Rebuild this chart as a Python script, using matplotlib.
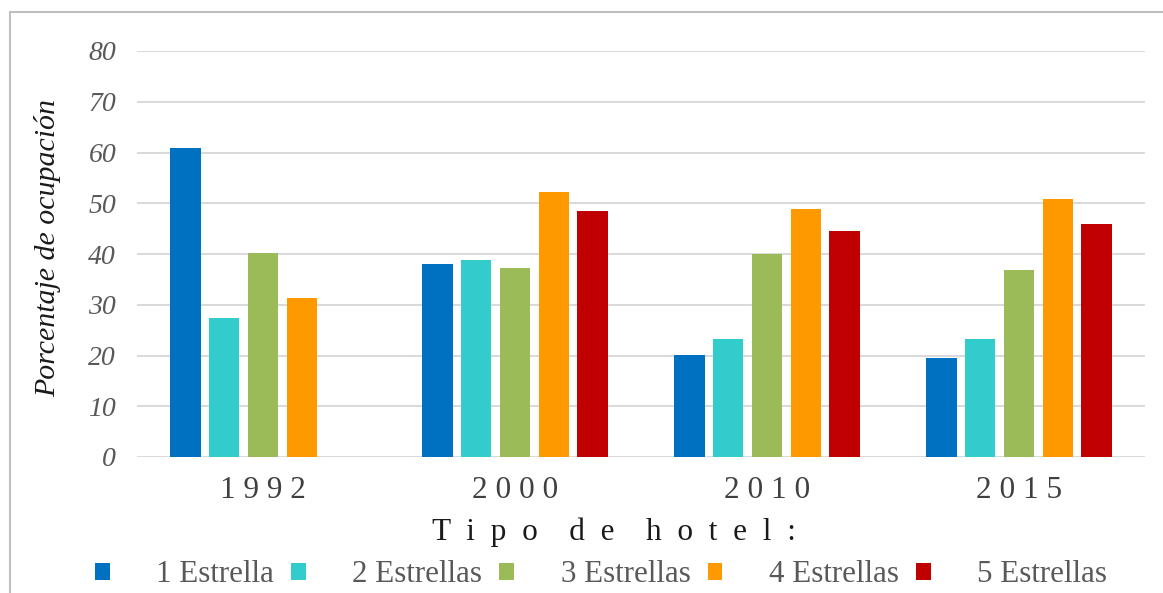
import matplotlib
matplotlib.use("Agg")
import matplotlib.pyplot as plt
from matplotlib.patches import Patch, Rectangle
from matplotlib.font_manager import FontProperties
import numpy as np

years = ["1992", "2000", "2010", "2015"]
series_names = ["1 Estrella", "2 Estrellas", "3 Estrellas", "4 Estrellas", "5 Estrellas"]
una = [60.9, 38.0, 20.1, 19.6]
dos = [27.4, 38.9, 23.3, 23.3]
tres = [40.2, 37.3, 40.0, 36.8]
cuatro = [31.4, 52.3, 48.9, 50.9]
cinco = [0.0, 48.4, 44.6, 45.9]
colors = ["#0070C0", "#33CCCC", "#9BBB59", "#FF9900", "#C00000"]
yticks = [0, 10, 20, 30, 40, 50, 60, 70, 80]

SERIF = ["Liberation Serif", "DejaVu Serif"]
plt.rcParams["font.family"] = SERIF

W, H = 1163, 593
fig = plt.figure(figsize=(W / 100, H / 100), dpi=100)
fig.patch.set_facecolor("white")

# outer frame of the chart
fig.patches.append(Rectangle((10 / W, -0.05), 1.1, (H - 12) / H + 0.05,
                             transform=fig.transFigure, fill=False,
                             edgecolor="#BFBFBF", linewidth=1.5))

ax = fig.add_axes([137 / W, (H - 457) / H, 1008 / W, 406 / H])
data = [una, dos, tres, cuatro, cinco]
x = np.arange(len(years))
step = 0.154
width = 0.121
for i, (vals, c) in enumerate(zip(data, colors)):
    ax.bar(x + (i - 2) * step, vals, width=width, color=c, zorder=3, label=series_names[i])

ax.set_xlim(-0.5, 3.5)
ax.set_ylim(0, 80)
ax.set_yticks(yticks)
ax.set_yticklabels([str(v) for v in yticks], fontsize=20, fontstyle="italic",
                   color="#595959", family=SERIF)
ax.set_xticks(x)
ax.set_xticklabels([" ".join(y) for y in years], fontsize=22.5, color="#404040", family=SERIF)
ax.tick_params(axis="both", length=0)
ax.tick_params(axis="y", pad=15)
ax.tick_params(axis="x", pad=14)
ax.grid(axis="y", color="#D9D9D9", linewidth=1.4, zorder=0)
for s in ax.spines.values():
    s.set_visible(False)

fig.text(48 / W, (H - 248) / H, "Porcentaje de ocupación", rotation=90,
         fontsize=21.5, fontstyle="italic", color="#1a1a1a", ha="center", va="center",
         family=SERIF)

fig.text(614 / W, (H - 532) / H, "T  i  p  o    d  e    h  o  t  e  l  :",
         fontsize=22.5, color="#1a1a1a", ha="center", va="center", family=SERIF)

handles = [Patch(facecolor=c, edgecolor="none") for c in colors]
fig.legend(handles, series_names, loc="center", bbox_to_anchor=(601 / W, (H - 575) / H),
           ncol=5, frameon=False, prop=FontProperties(family=SERIF, size=22.3),
           labelcolor="#595959",
           handlelength=0.48, handleheight=0.48, handletextpad=1.5,
           columnspacing=0.55, borderpad=0, borderaxespad=0)

fig.savefig("out.png", dpi=100, facecolor="white")
